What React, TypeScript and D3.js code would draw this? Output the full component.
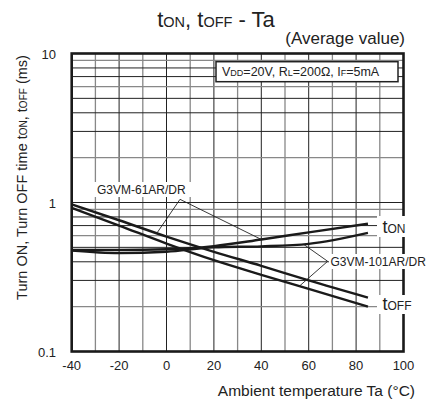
import * as d3 from 'd3';
import * as React from 'react';

// ambient temperature (°C) sample points
const temps = [-40, -20, 0, 20, 40, 60, 85];

// switching times (ms)
const tOn61 = [0.48, 0.48, 0.485, 0.51, 0.565, 0.63, 0.72];
const tOn101 = [0.475, 0.457, 0.467, 0.5, 0.508, 0.528, 0.625];
const tOff61 = [0.97, 0.76, 0.59, 0.467, 0.376, 0.3, 0.23];
const tOff101 = [0.92, 0.7, 0.53, 0.41, 0.327, 0.263, 0.2];

const xTicks = [-40, -20, 0, 20, 40, 60, 80, 100];
const yTicks = [0.1, 1, 10];
const xGrid = d3.range(-30, 100, 10);
const yGrid = [0.2, 0.3, 0.4, 0.5, 0.6, 0.7, 0.8, 0.9, 1, 2, 3, 4, 5, 6, 7, 8, 9];

// leader lines: [vertex, target] in data space
const leaders61: [number, number][][] = [
  [[5.7, 1.05], [-4, 0.625]],
  [[5.7, 1.05], [40, 0.565]],
];
const leaders101: [number, number][][] = [
  [[68, 0.403], [58, 0.522]],
  [[68, 0.403], [56, 0.274]],
];

const FONT = '"Liberation Sans", Arial, Helvetica, sans-serif';

const W = 429;
const H = 403;

const x = d3.scaleLinear().domain([-40, 100]).range([71.7, 403.5]);
const y = d3.scaleLog().domain([0.1, 10]).range([351.5, 53.5]);

const line = d3
  .line<[number, number]>()
  .x((d) => x(d[0]))
  .y((d) => y(d[1]))
  .curve(d3.curveMonotoneX);

const series = [tOn61, tOn101, tOff61, tOff101];

const isGrayY = (v: number) => {
  const m = Math.round(v / Math.pow(10, Math.floor(Math.log10(v) + 1e-9)));
  return m === 9 || m === 6 || m === 2;
};

export default function App() {
  const left = x(-40);
  const right = x(100);
  const top = y(10);
  const bottom = y(0.1);

  return (
    <div style={{ position: 'absolute', left: 0, top: 0 }}>
      <svg width={W} height={H} viewBox={`0 0 ${W} ${H}`} style={{ display: 'block', background: '#fff' }}>
        <rect width={W} height={H} fill='#fff' />

        {/* grid */}
        {xGrid.map((t) => (
          <line
            key={'gx' + t}
            x1={x(t)}
            x2={x(t)}
            y1={top}
            y2={bottom}
            stroke={t % 20 === 0 ? '#222' : '#888'}
            strokeWidth={t % 20 === 0 ? 1 : 1.3}
          />
        ))}
        {yGrid.map((v) => (
          <line
            key={'gy' + v}
            x1={left}
            x2={right}
            y1={y(v)}
            y2={y(v)}
            stroke={isGrayY(v) ? '#888' : '#222'}
            strokeWidth={isGrayY(v) ? 1.3 : 1}
          />
        ))}

        {/* condition box */}
        <rect x={216} y={61.7} width={182} height={20} fill='#fff' stroke='#222' strokeWidth={1.5} />
        <text x={222} y={76} fontFamily={FONT} fontSize={12.5} fill='#222'>
          V<tspan fontSize={9}>DD</tspan>=20V, R<tspan fontSize={9}>L</tspan>=200Ω, I
          <tspan fontSize={9}>F</tspan>=5mA
        </text>

        {/* curves */}
        {series.map((s, i) => (
          <path
            key={'s' + i}
            d={line(temps.map((t, j) => [t, s[j]] as [number, number])) || ''}
            fill='none'
            stroke='#1a1a1a'
            strokeWidth={2.4}
          />
        ))}

        {/* leader lines */}
        {[...leaders61, ...leaders101].map((seg, i) => (
          <line
            key={'l' + i}
            x1={x(seg[0][0])}
            y1={y(seg[0][1])}
            x2={x(seg[1][0])}
            y2={y(seg[1][1])}
            stroke='#222'
            strokeWidth={0.9}
          />
        ))}

        {/* frame */}
        <rect x={left} y={top} width={right - left} height={bottom - top} fill='none' stroke='#1a1a1a' strokeWidth={2.6} />

        {/* curve labels */}
        <rect x={94} y={182} width={97} height={15} fill='#fff' />
        <text x={97} y={194} fontFamily={FONT} fontSize={12} fill='#222'>
          G3VM-61AR/DR
        </text>
        <rect x={329} y={254} width={100} height={15} fill='#fff' />
        <text x={330.5} y={266} fontFamily={FONT} fontSize={12} fill='#222'>
          G3VM-101AR/DR
        </text>
        <rect x={377} y={216} width={34} height={21} fill='#fff' />
        <text x={382.5} y={233} fontFamily={FONT} fontSize={18} fill='#222'>
          t<tspan fontSize={12}>ON</tspan>
        </text>
        <rect x={377} y={295} width={40} height={19} fill='#fff' />
        <text x={382.5} y={310} fontFamily={FONT} fontSize={18} fill='#222'>
          t<tspan fontSize={12}>OFF</tspan>
        </text>

        {/* tick labels */}
        {xTicks.map((t) => (
          <text key={'tx' + t} x={x(t)} y={369.5} textAnchor='middle' fontFamily={FONT} fontSize={13} fill='#222'>
            {t}
          </text>
        ))}
        {yTicks.map((v) => (
          <text key={'ty' + v} x={56} y={y(v) + 5} textAnchor='end' fontFamily={FONT} fontSize={13} fill='#222'>
            {v}
          </text>
        ))}

        {/* titles */}
        <text x={216} y={27} textAnchor='middle' fontFamily={FONT} fontSize={22} fill='#222'>
          t<tspan fontSize={14.5}>ON</tspan>, t<tspan fontSize={14.5}>OFF</tspan> - Ta
        </text>
        <text x={405} y={44} textAnchor='end' fontFamily={FONT} fontSize={17} fill='#222'>
          (Average value)
        </text>
        <text x={415} y={395.5} textAnchor='end' fontFamily={FONT} fontSize={15.5} fill='#222'>
          Ambient temperature Ta (°C)
        </text>
        <text
          transform='translate(26.5,177.5) rotate(-90)'
          textAnchor='middle'
          fontFamily={FONT}
          fontSize={14.5}
          fill='#222'
        >
          Turn ON, Turn OFF time t<tspan fontSize={10}>ON</tspan>, t<tspan fontSize={10}>OFF</tspan> (ms)
        </text>
      </svg>
    </div>
  );
}
